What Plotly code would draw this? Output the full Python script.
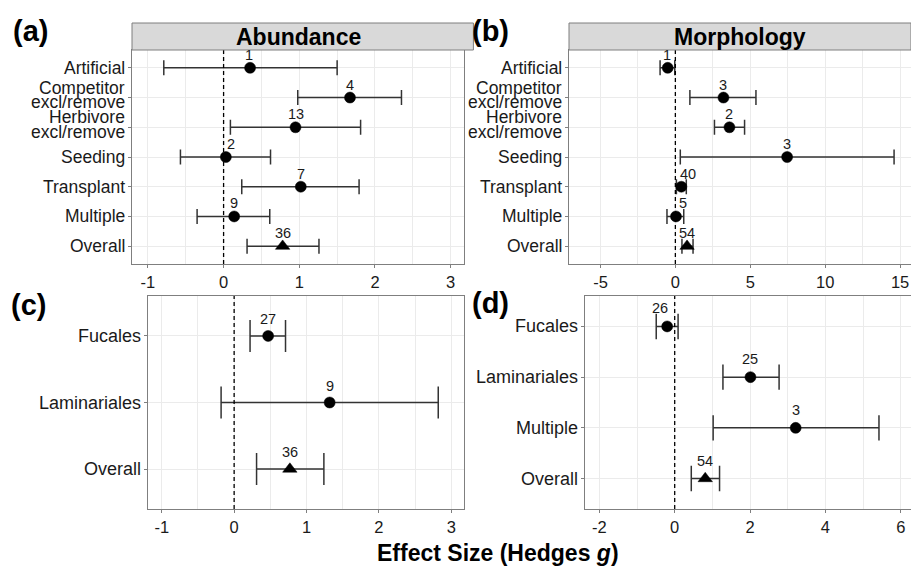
import plotly.graph_objects as go

# ---------------- data ----------------
a_cats = ["Artificial", "Competitor\nexcl/remove", "Herbivore\nexcl/remove", "Seeding",
          "Transplant", "Multiple", "Overall"]
a_est = [0.35, 1.67, 0.95, 0.03, 1.02, 0.14, 0.78]
a_lo = [-0.79, 0.98, 0.09, -0.57, 0.24, -0.35, 0.31]
a_hi = [1.50, 2.35, 1.81, 0.62, 1.79, 0.61, 1.26]
a_n = [1, 4, 13, 2, 7, 9, 36]
a_ticks = [-1, 0, 1, 2, 3]

b_cats = a_cats
b_est = [-0.51, 3.21, 3.61, 7.46, 0.40, 0.04, 0.78]
b_lo = [-1.02, 0.97, 2.61, 0.33, 0.07, -0.56, 0.44]
b_hi = [-0.04, 5.38, 4.62, 14.60, 0.73, 0.56, 1.18]
b_n = [1, 3, 2, 3, 40, 5, 54]
b_ticks = [-5, 0, 5, 10, 15]

c_cats = ["Fucales", "Laminariales", "Overall"]
c_est = [0.47, 1.32, 0.77]
c_lo = [0.22, -0.18, 0.31]
c_hi = [0.71, 2.82, 1.24]
c_n = [27, 9, 36]
c_ticks = [-1, 0, 1, 2, 3]

d_cats = ["Fucales", "Laminariales", "Multiple", "Overall"]
d_est = [-0.20, 2.01, 3.21, 0.81]
d_lo = [-0.49, 1.28, 1.02, 0.44]
d_hi = [0.09, 2.77, 5.42, 1.19]
d_n = [26, 25, 3, 54]
d_ticks = [-2, 0, 2, 4, 6]

strip_titles = ["Abundance", "Morphology"]
panel_tags = ["(a)", "(b)", "(c)", "(d)"]
x_title = "Effect Size (Hedges <i>g</i>)"

# ---------------- layout helpers ----------------
W, H = 911, 568
FONT = "Liberation Sans, Arial, Helvetica, sans-serif"
TXT = "#1a1a1a"
BORDER = "#7f7f7f"
GRID = "#ebebeb"


def px(x):
    return x / W


def py(y):
    return 1 - y / H


panels = [
    dict(cats=a_cats, est=a_est, lo=a_lo, hi=a_hi, n=a_n, ticks=a_ticks,
         xdom=(132, 464.3), ydom=(50, 264), xr=(-1.21, 3.18), minor=0.5,
         cap=7.5, lab_dy=13, lab_dx=[-1, 0, 0, 5, 0, 0, 0], fs=17.5, nfs=14.5),
    dict(cats=b_cats, est=b_est, lo=b_lo, hi=b_hi, n=b_n, ticks=b_ticks,
         xdom=(569, 911), ydom=(50, 264), xr=(-7.1, 15.73), minor=2.5,
         cap=7.5, lab_dy=13, lab_dx=[-1, 0, 0, 0, 7, 7, 0], fs=17.5, nfs=14.5),
    dict(cats=c_cats, est=c_est, lo=c_lo, hi=c_hi, n=c_n, ticks=c_ticks,
         xdom=(148, 464.3), ydom=(296, 509), xr=(-1.19, 3.18), minor=0.5,
         cap=16, lab_dy=17, lab_dx=[0, 0, 0], fs=18, nfs=14.5),
    dict(cats=d_cats, est=d_est, lo=d_lo, hi=d_hi, n=d_n, ticks=d_ticks,
         xdom=(585, 911), ydom=(296, 509), xr=(-2.38, 6.27), minor=1,
         cap=12.7, lab_dy=18, lab_dx=[-7, 0, 0, 0], fs=18, nfs=14.5),
]

fig = go.Figure()
annotations = []
shapes = []

for i, p in enumerate(panels):
    k = "" if i == 0 else str(i + 1)
    xa, ya = "x" + k, "y" + k
    nc = len(p["cats"])
    symbols = ["circle"] * (nc - 1) + ["triangle-up"]
    sizes = [11] * (nc - 1) + [12.5]
    fig.add_trace(go.Scatter(
        x=p["est"], y=p["cats"], mode="markers",
        marker=dict(symbol=symbols, size=sizes, color="black", opacity=1,
                    line=dict(width=0.5, color="black")),
        error_x=dict(type="data", symmetric=False,
                     array=[h - e for h, e in zip(p["hi"], p["est"])],
                     arrayminus=[e - l for e, l in zip(p["est"], p["lo"])],
                     width=p["cap"], thickness=1.5, color="#333333"),
        xaxis=xa, yaxis=ya, showlegend=False, hoverinfo="skip", cliponaxis=False))

    xd = [px(p["xdom"][0]), min(1.0, px(p["xdom"][1]))]
    yd = [py(p["ydom"][1]), py(p["ydom"][0])]
    fig.layout["xaxis" + k] = dict(
        domain=xd, anchor=ya, range=list(p["xr"]),
        tickmode="array", tickvals=p["ticks"], ticktext=[str(t) for t in p["ticks"]],
        showgrid=True, gridcolor=GRID, gridwidth=1,
        minor=dict(dtick=p["minor"], tick0=0, showgrid=True, gridcolor=GRID, gridwidth=1, ticks=""),
        zeroline=False, showline=True, mirror=True, linecolor=BORDER, linewidth=1,
        ticks="outside", ticklen=3, tickcolor=BORDER, tickwidth=1,
        tickfont=dict(family=FONT, size=16.5, color=TXT), fixedrange=True)
    fig.layout["yaxis" + k] = dict(
        domain=yd, anchor=xa, type="category", categoryorder="array",
        categoryarray=p["cats"], range=[nc - 0.4, -0.6],
        showgrid=True, gridcolor=GRID, gridwidth=1, zeroline=False,
        showline=True, mirror=True, linecolor=BORDER, linewidth=1,
        ticks="outside", ticklen=3, tickcolor=BORDER, tickwidth=1,
        showticklabels=False, fixedrange=True)

    # zero reference line
    shapes.append(dict(type="line", xref=xa, yref=ya + " domain", x0=0, x1=0, y0=0, y1=1,
                       line=dict(color="black", width=1.3, dash="4px,3px")))

    # y category labels (tight line spacing as in the original)
    for cat in p["cats"]:
        lines = cat.split("\n")
        shifts = [0] if len(lines) == 1 else [10, -4.5]
        for ln, sh in zip(lines, shifts):
            annotations.append(dict(
                xref=xa + " domain", x=0, xanchor="right", xshift=-5,
                yref=ya, y=cat, yanchor="middle", yshift=sh,
                text=ln, showarrow=False,
                font=dict(family=FONT, size=p["fs"], color=TXT)))

    # sample sizes
    for cat, e, nn, dx in zip(p["cats"], p["est"], p["n"], p["lab_dx"]):
        annotations.append(dict(
            xref=xa, x=e, yref=ya, y=cat, xanchor="center", yanchor="middle",
            xshift=dx, yshift=p["lab_dy"], text=str(nn), showarrow=False,
            font=dict(family=FONT, size=p["nfs"], color=TXT)))

# strips
for i, title in enumerate(strip_titles):
    p = panels[i]
    x0, x1 = px(p["xdom"][0]), min(1.0, px(p["xdom"][1]) + 0.01)
    shapes.append(dict(type="rect", xref="paper", yref="paper", x0=x0, x1=x1,
                       y0=py(50), y1=py(23), fillcolor="#d9d9d9",
                       line=dict(color=BORDER, width=1), layer="above"))
    annotations.append(dict(xref="paper", yref="paper",
                            x=(px(p["xdom"][0]) + px(p["xdom"][1])) / 2, y=py(36.5),
                            xanchor="center", yanchor="middle", showarrow=False,
                            text="<b>" + title + "</b>",
                            font=dict(family=FONT, size=23, color="black")))

# panel tags
tag_pos = [(11, 31), (470, 31), (9, 305), (470, 303)]
for tag, (tx, ty) in zip(panel_tags, tag_pos):
    annotations.append(dict(xref="paper", yref="paper", x=px(tx), y=py(ty),
                            xanchor="left", yanchor="middle", showarrow=False,
                            text="<b>" + tag + "</b>",
                            font=dict(family=FONT, size=29, color="black")))

# x axis title
annotations.append(dict(xref="paper", yref="paper", x=px(498), y=py(553),
                        xanchor="center", yanchor="middle", showarrow=False,
                        text="<b>" + x_title + "</b>",
                        font=dict(family=FONT, size=23, color="black")))

fig.update_layout(width=W, height=H, margin=dict(l=0, r=0, t=0, b=0),
                  paper_bgcolor="white", plot_bgcolor="white",
                  annotations=annotations, shapes=shapes, showlegend=False)

fig.write_html("out.html")
